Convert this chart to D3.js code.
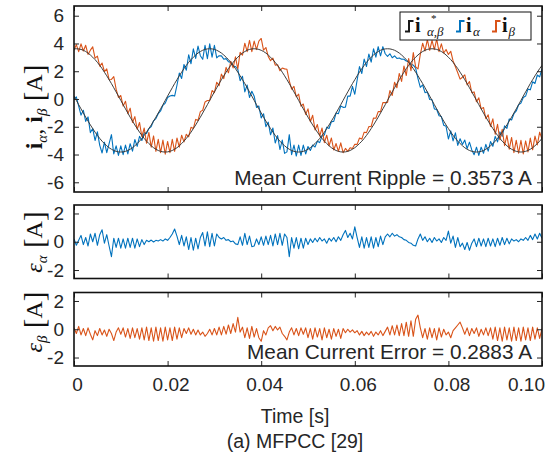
<!DOCTYPE html>
<html>
<head>
<meta charset="utf-8">
<script src="https://cdn.jsdelivr.net/npm/d3@7"></script>
<style>
body { margin: 0; background: #fff; }
svg { display: block; font-family: "Liberation Sans", Arial, sans-serif; }
</style>
</head>
<body>
<svg id="chart" width="556" height="456"></svg>
<script>
// sample step of the recorded signals [s]
const dt = 0.0005;

// reference currents i*_alpha, i*_beta [A], one value per sample
const refAlpha = [0.21,
  -0.10,-0.41,-0.71,-1.01,-1.31,-1.59,-1.87,-2.13,-2.39,-2.62,-2.84,-3.04,-3.21,-3.37,-3.51,-3.62,-3.71,-3.77,-3.81,-3.82,
  -3.81,-3.77,-3.71,-3.62,-3.51,-3.37,-3.21,-3.04,-2.84,-2.62,-2.39,-2.13,-1.87,-1.59,-1.31,-1.01,-0.71,-0.41,-0.10,
  0.21,0.51,0.81,1.11,1.39,1.67,1.93,2.19,2.42,2.64,2.84,3.01,3.17,3.31,3.42,3.51,3.57,3.61,3.62,
  3.61,3.57,3.51,3.42,3.31,3.17,3.01,2.84,2.64,2.42,2.19,1.93,1.67,1.39,1.11,0.81,0.51,0.21,
  -0.10,-0.41,-0.71,-1.01,-1.31,-1.59,-1.87,-2.13,-2.39,-2.62,-2.84,-3.04,-3.21,-3.37,-3.51,-3.62,-3.71,-3.77,-3.81,-3.82,
  -3.81,-3.77,-3.71,-3.62,-3.51,-3.37,-3.21,-3.04,-2.84,-2.62,-2.39,-2.13,-1.87,-1.59,-1.31,-1.01,-0.71,-0.41,-0.10,
  0.21,0.51,0.81,1.11,1.39,1.67,1.93,2.19,2.42,2.64,2.84,3.01,3.17,3.31,3.42,3.51,3.57,3.61,3.62,
  3.61,3.57,3.51,3.42,3.31,3.17,3.01,2.84,2.64,2.42,2.19,1.93,1.67,1.39,1.11,0.81,0.51,0.21,
  -0.10,-0.41,-0.71,-1.01,-1.31,-1.59,-1.87,-2.13,-2.39,-2.62,-2.84,-3.04,-3.21,-3.37,-3.51,-3.62,-3.71,-3.77,-3.81,-3.82,
  -3.81,-3.77,-3.71,-3.62,-3.51,-3.37,-3.21,-3.04,-2.84,-2.62,-2.39,-2.13,-1.87,-1.59,-1.31,-1.01,-0.71,-0.41,-0.10,
  0.21,0.51,0.81,1.11,1.39,1.67,1.93,2.19,2.42];

const refBeta = [3.61,3.62,3.61,3.57,3.51,3.42,3.31,3.17,3.01,2.84,2.64,2.42,2.19,1.93,1.67,1.39,1.11,0.81,0.51,0.21,
  -0.10,-0.41,-0.71,-1.01,-1.31,-1.59,-1.87,-2.13,-2.39,-2.62,-2.84,-3.04,-3.21,-3.37,-3.51,-3.62,-3.71,-3.77,-3.81,-3.82,
  -3.81,-3.77,-3.71,-3.62,-3.51,-3.37,-3.21,-3.04,-2.84,-2.62,-2.39,-2.13,-1.87,-1.59,-1.31,-1.01,-0.71,-0.41,-0.10,
  0.21,0.51,0.81,1.11,1.39,1.67,1.93,2.19,2.42,2.64,2.84,3.01,3.17,3.31,3.42,3.51,3.57,3.61,3.62,
  3.61,3.57,3.51,3.42,3.31,3.17,3.01,2.84,2.64,2.42,2.19,1.93,1.67,1.39,1.11,0.81,0.51,0.21,
  -0.10,-0.41,-0.71,-1.01,-1.31,-1.59,-1.87,-2.13,-2.39,-2.62,-2.84,-3.04,-3.21,-3.37,-3.51,-3.62,-3.71,-3.77,-3.81,-3.82,
  -3.81,-3.77,-3.71,-3.62,-3.51,-3.37,-3.21,-3.04,-2.84,-2.62,-2.39,-2.13,-1.87,-1.59,-1.31,-1.01,-0.71,-0.41,-0.10,
  0.21,0.51,0.81,1.11,1.39,1.67,1.93,2.19,2.42,2.64,2.84,3.01,3.17,3.31,3.42,3.51,3.57,3.61,3.62,
  3.61,3.57,3.51,3.42,3.31,3.17,3.01,2.84,2.64,2.42,2.19,1.93,1.67,1.39,1.11,0.81,0.51,0.21,
  -0.10,-0.41,-0.71,-1.01,-1.31,-1.59,-1.87,-2.13,-2.39,-2.62,-2.84,-3.04,-3.21,-3.37,-3.51,-3.62,-3.71,-3.77,-3.81,-3.82,
  -3.81,-3.77,-3.71,-3.62,-3.51,-3.37,-3.21,-3.04,-2.84];

// tracking errors eps = i* - i [A], same samples
const errAlpha = [0.20,-0.25,0.10,0.45,-0.20,0.30,-0.30,0.55,0.00,0.60,
  -0.25,0.50,0.85,-0.10,0.50,-0.30,-1.05,0.25,-0.40,0.25,
  -0.45,0.20,-0.45,0.25,-0.40,0.25,-0.45,0.20,-0.35,0.15,
  -0.20,0.10,0.00,0.12,-0.02,0.10,0.05,0.15,0.05,0.20,
  0.10,0.30,0.55,0.90,0.40,-0.20,0.45,-0.30,0.35,-0.55,
  0.30,-0.60,0.25,-0.50,0.30,0.65,-0.30,0.70,-0.35,0.60,
  -0.30,0.55,0.30,0.20,0.30,0.10,0.15,0.00,0.05,-0.15,
  -0.20,0.35,-0.25,0.60,-0.20,0.40,-0.35,-0.30,0.20,-0.20,
  0.35,-0.25,0.40,-0.20,0.45,-0.30,0.55,-0.20,0.60,-0.25,
  0.55,0.30,-1.05,0.30,-0.45,0.30,-0.50,0.25,-0.45,0.25,
  -0.20,0.20,-0.05,0.25,0.00,0.30,0.05,0.20,-0.10,0.25,
  0.05,0.30,0.00,0.35,0.10,0.50,0.80,0.30,0.60,0.20,
  1.05,0.30,-0.40,0.35,-0.45,0.30,-0.40,0.35,-0.45,0.30,
  -0.35,0.40,-0.20,0.35,0.55,0.35,0.60,0.40,0.50,0.35,
  0.30,0.15,0.10,-0.05,-0.10,-0.25,-0.30,0.20,0.55,0.10,
  0.35,0.00,0.25,-0.05,0.30,0.05,0.20,-0.05,0.30,0.10,
  0.75,-0.10,0.40,-0.40,0.30,-0.35,-0.10,-0.55,-0.05,-0.60,
  -0.10,0.20,-0.35,0.25,-0.30,0.20,-0.35,0.25,-0.30,0.20,
  -0.35,0.25,-0.25,0.30,-0.20,0.25,-0.15,0.20,0.05,0.15,
  0.00,0.20,0.10,0.30,0.10,0.45,0.15,0.55,0.20,0.60,
  0.25];

const errBeta = [0.10,-0.30,0.20,-0.40,0.05,-0.45,0.10,-0.35,-0.75,-0.10,
  -0.45,0.05,-0.40,-0.05,-0.50,0.00,-0.30,-0.80,-0.20,0.10,
  -0.35,0.10,-0.55,0.05,-0.65,0.10,-0.60,0.05,-0.70,0.10,
  -0.75,0.15,-0.80,0.10,-0.85,0.15,-0.80,0.10,-0.85,0.15,
  -0.75,0.10,-0.80,0.15,-0.70,0.10,-0.60,0.05,-0.30,0.10,
  -0.35,0.00,-0.40,-0.05,-0.40,-0.20,-0.50,-0.30,0.00,-0.40,
  0.05,-0.40,0.15,-0.40,0.20,-0.35,0.30,-0.30,0.40,-0.20,
  0.85,-0.20,0.15,-0.60,0.10,-0.65,0.20,-0.55,0.05,-0.60,
  -0.85,-0.10,-0.40,0.10,0.25,-0.10,0.20,-0.05,0.15,-0.30,
  -0.50,-0.75,-0.20,0.10,-0.40,0.05,-0.45,0.10,-0.35,0.10,
  -0.60,0.05,-0.70,0.10,-0.55,0.05,-0.75,0.10,-0.60,0.00,
  -0.70,0.05,-0.50,0.00,-0.65,0.05,-0.25,0.00,-0.20,-0.05,
  -0.25,-0.10,-0.40,-0.15,-0.45,-0.20,-0.40,-0.15,-0.50,-0.20,
  -0.40,-0.10,-0.45,-0.15,0.15,-0.40,0.25,-0.40,0.30,-0.45,
  0.40,-0.45,0.50,-0.50,0.60,-0.50,0.70,1.00,0.10,-0.60,
  0.05,-0.70,0.10,-0.60,0.05,-0.75,0.10,-0.55,0.00,-0.40,
  -0.20,-0.60,-0.10,0.10,0.30,0.50,0.10,-0.35,0.10,-0.45,
  0.05,-0.30,0.10,-0.50,0.00,-0.40,0.10,-0.45,0.10,-0.70,
  0.15,-0.80,0.10,-0.85,0.15,-0.75,0.10,-0.85,0.15,-0.80,
  0.10,-0.85,0.15,-0.75,0.10,-0.80,0.15,-0.70,0.10,-0.65,
  0.05];

const xTicks = [0, 0.02, 0.04, 0.06, 0.08, 0.1];
const xTickLabels = ["0", "0.02", "0.04", "0.06", "0.08", "0.10"];
const yTicksTop = [-6, -4, -2, 0, 2, 4, 6];
const yTicksErr = [-2, 0, 2];
const rippleText = "Mean Current Ripple = 0.3573 A";
const errorText = "Mean Current Error = 0.2883 A";

const blue = "#0072BD";
const orange = "#D95319";
const ink = "#262626";

const svg = d3.select("#chart");
const left = 74, right = 542;

const x = d3.scaleLinear().domain([0, 0.1]).range([left, right]);

const panels = [
    { top: 6, bottom: 192, domain: [-6.7, 6.7], ticks: yTicksTop },
    { top: 205, bottom: 278.5, domain: [-2.6, 2.6], ticks: yTicksErr },
    { top: 292.5, bottom: 366, domain: [-2.6, 2.6], ticks: yTicksErr }
];

const defs = svg.append("defs");
panels.forEach((p, i) => {
    p.y = d3.scaleLinear().domain(p.domain).range([p.bottom, p.top]);
    defs.append("clipPath").attr("id", "clip" + i)
        .append("rect")
        .attr("x", left).attr("y", p.top)
        .attr("width", right - left).attr("height", p.bottom - p.top);
});

const iAlpha = refAlpha.map((d, i) => d - errAlpha[i]);
const iBeta = refBeta.map((d, i) => d - errBeta[i]);

function drawSeries(p, idx, values, color, width) {
    const line = d3.line()
        .x((d, i) => x(i * dt))
        .y(d => p.y(d));
    svg.append("path")
        .datum(values)
        .attr("clip-path", `url(#clip${idx})`)
        .attr("d", line)
        .attr("fill", "none")
        .attr("stroke", color)
        .attr("stroke-width", width)
        .attr("stroke-linejoin", "round");
}

// top panel: measured and reference currents
drawSeries(panels[0], 0, iAlpha, blue, 1.1);
drawSeries(panels[0], 0, iBeta, orange, 1.1);
drawSeries(panels[0], 0, refAlpha, "#3c3c3c", 1);
drawSeries(panels[0], 0, refBeta, "#3c3c3c", 1);

// error panels
drawSeries(panels[1], 1, errAlpha, blue, 1.1);
drawSeries(panels[2], 2, errBeta, orange, 1.1);

// axes and boxes
panels.forEach((p, i) => {
    const g = svg.append("g");
    const styleAxis = a => {
        a.select(".domain").remove();
        a.selectAll(".tick line").attr("stroke", ink);
        a.selectAll(".tick text")
            .attr("fill", ink)
            .style("font-family", '"Liberation Sans", Arial, sans-serif')
            .style("font-size", "19px");
    };

    g.append("g")
        .attr("transform", `translate(${left},0)`)
        .call(d3.axisLeft(p.y).tickValues(p.ticks).tickSize(-5).tickPadding(10).tickFormat(d => String(d)))
        .call(styleAxis);

    g.append("g")
        .attr("transform", `translate(${right},0)`)
        .call(d3.axisRight(p.y).tickValues(p.ticks).tickSize(-5).tickFormat(""))
        .call(styleAxis);

    g.append("g")
        .attr("transform", `translate(0,${p.top})`)
        .call(d3.axisTop(x).tickValues(xTicks).tickSize(-5).tickFormat(""))
        .call(styleAxis);

    const bottomAxis = d3.axisBottom(x).tickValues(xTicks).tickSize(-5).tickPadding(12)
        .tickFormat(i === 2 ? (d, k) => xTickLabels[k] : "");
    const gb = g.append("g")
        .attr("transform", `translate(0,${p.bottom})`)
        .call(bottomAxis)
        .call(styleAxis);
    if (i === 2) {
        gb.selectAll(".tick text").attr("dx", d => d === 0.1 ? -16 : 3);
    }

    g.append("rect")
        .attr("x", left).attr("y", p.top)
        .attr("width", right - left).attr("height", p.bottom - p.top)
        .attr("fill", "none")
        .attr("stroke", "#111")
        .attr("stroke-width", 1.6);
});

// annotations
svg.append("text")
    .attr("x", 532).attr("y", 185)
    .attr("text-anchor", "end")
    .attr("fill", ink)
    .style("font-size", "20.8px")
    .text(rippleText);

svg.append("text")
    .attr("x", 532).attr("y", 358.5)
    .attr("text-anchor", "end")
    .attr("fill", ink)
    .style("font-size", "20.8px")
    .text(errorText);

svg.append("text")
    .attr("x", 295).attr("y", 423)
    .attr("text-anchor", "middle")
    .attr("fill", ink)
    .style("font-size", "19.5px")
    .text("Time [s]");

svg.append("text")
    .attr("x", 295).attr("y", 448)
    .attr("text-anchor", "middle")
    .attr("fill", ink)
    .style("font-size", "19.5px")
    .text("(a) MFPCC [29]");

// y labels, written in LaTeX style
const serif = '"Liberation Serif", "Times New Roman", serif';
function yLabel(cx, cy, parts) {
    const t = svg.append("text")
        .attr("transform", `translate(${cx},${cy}) rotate(-90)`)
        .attr("text-anchor", "middle")
        .attr("fill", "#111")
        .style("font-family", serif);
    parts.forEach(pt => {
        const s = t.append("tspan").text(pt.s)
            .style("font-size", (pt.size || 24) + "px");
        if (pt.bold) s.style("font-weight", "bold");
        if (pt.italic) s.style("font-style", "italic");
        if (pt.dy) s.attr("dy", pt.dy);
    });
}

yLabel(42, 107, [
    { s: "i", bold: true },
    { s: "α", italic: true, size: 15, dy: 5 },
    { s: ", ", dy: -5 },
    { s: "i", bold: true },
    { s: "β", italic: true, size: 15, dy: 5 },
    { s: " [", size: 29, dy: -3 },
    { s: "A", dy: -2 },
    { s: "]", size: 29, dy: 2 }
]);

yLabel(42, 242, [
    { s: "ε", italic: true },
    { s: "α", italic: true, size: 15, dy: 5 },
    { s: " [", size: 29, dy: -3 },
    { s: "A", dy: -2 },
    { s: "]", size: 29, dy: 2 }
]);

yLabel(42, 322, [
    { s: "ε", italic: true },
    { s: "β", italic: true, size: 15, dy: 5 },
    { s: " [", size: 29, dy: -3 },
    { s: "A", dy: -2 },
    { s: "]", size: 29, dy: 2 }
]);

// legend
const legend = svg.append("g");
legend.append("rect")
    .attr("x", 400).attr("y", 12)
    .attr("width", 131).attr("height", 28)
    .attr("fill", "#fff")
    .attr("stroke", "#111")
    .attr("stroke-width", 1);

const legendItems = [
    { x0: 405, color: "#1a1a1a", ix: 415, sub: "α,β", sx: 427, star: true },
    { x0: 456, color: blue, ix: 466, sub: "α", sx: 473 },
    { x0: 492, color: orange, ix: 502, sub: "β", sx: 508.5 }
];
legendItems.forEach(it => {
    legend.append("path")
        .attr("d", `M${it.x0},31.5 H${it.x0 + 4} V21 H${it.x0 + 8.5}`)
        .attr("fill", "none")
        .attr("stroke", it.color)
        .attr("stroke-width", 2);
    legend.append("text")
        .attr("x", it.ix).attr("y", 32)
        .style("font-family", serif)
        .style("font-weight", "bold")
        .style("font-size", "20px")
        .attr("fill", "#111")
        .text("i");
    legend.append("text")
        .attr("x", it.sx).attr("y", 36)
        .style("font-family", serif)
        .style("font-style", "italic")
        .style("font-size", "13px")
        .attr("fill", "#111")
        .text(it.sub);
    if (it.star) {
        legend.append("text")
            .attr("x", 431).attr("y", 22)
            .style("font-family", serif)
            .style("font-size", "11px")
            .attr("fill", "#111")
            .text("*");
    }
});
</script>
</body>
</html>
